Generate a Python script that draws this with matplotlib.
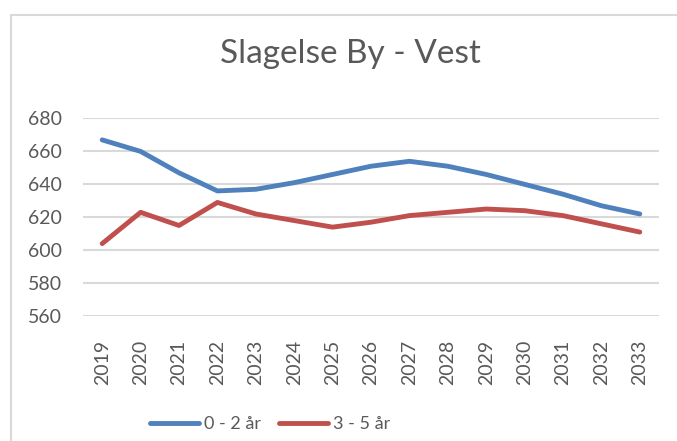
import matplotlib
matplotlib.use("Agg")
import matplotlib.pyplot as plt
from matplotlib.patches import Rectangle

# Data
years = [str(y) for y in range(2019, 2034)]
age_0_2 = [667, 660, 647, 636, 637, 641, 646, 651, 654, 651, 646, 640, 634, 627, 622]
age_3_5 = [604, 623, 615, 629, 622, 618, 614, 617, 621, 623, 625, 624, 621, 616, 611]

plt.rcParams['font.family'] = ['Lato', 'DejaVu Sans']
txt = '#595959'

fig = plt.figure(figsize=(6.77, 4.41), dpi=100)
ax = fig.add_axes([0.1226, 0.2834, 0.8508, 0.4479])

# chart border (extends past the right and bottom edges)
fig.patches.append(Rectangle((11 / 677, -0.1), 1.2, 1 - 15 / 441 + 0.1, transform=fig.transFigure,
                             fill=False, edgecolor='#d9d9d9', linewidth=1.5))

x = range(len(years))
ax.plot(x, age_0_2, color='#4f81bd', linewidth=3.5, solid_capstyle='round', label='0 - 2 år')
ax.plot(x, age_3_5, color='#c0504d', linewidth=3.5, solid_capstyle='round', label='3 - 5 år')

ax.set_ylim(560, 680)
ax.set_yticks(range(560, 681, 20))
ax.set_xlim(-0.5, len(years) - 0.5)
ax.set_xticks(list(x))
ax.set_xticklabels(years, rotation=90)
ax.grid(axis='y', color='#d9d9d9', linewidth=1.5)
ax.set_axisbelow(True)
for s in ax.spines.values():
    s.set_visible(False)
ax.tick_params(length=0, labelsize=14, labelcolor=txt)
ax.tick_params(axis='y', pad=15)
ax.tick_params(axis='x', pad=17)

fig.text(0.517, 1 - 54 / 441, 'Slagelse By - Vest', ha='center', va='center', fontsize=24, color=txt)

fig.legend(loc='center', bbox_to_anchor=(270 / 677, 1 - 424 / 441), ncol=2, frameon=False,
           fontsize=13, labelcolor=txt, handlelength=2.7, handletextpad=0.28, columnspacing=1.0)

fig.savefig('out.png', dpi=100)
